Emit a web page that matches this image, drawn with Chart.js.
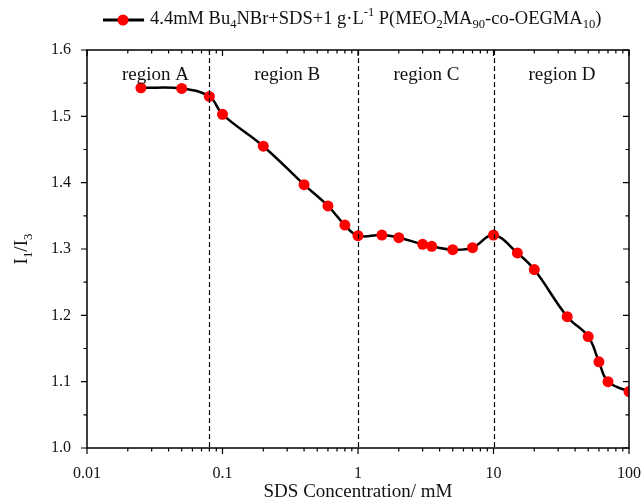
<!doctype html>
<html lang="en">
<head>
<meta charset="utf-8">
<title>I1/I3 vs SDS concentration</title>
<script src="https://cdn.jsdelivr.net/npm/chart.js"></script>
<style>
    html, body { margin: 0; padding: 0; background: #fff; }
    #wrap { width: 643px; height: 503px; position: relative; }
</style>
</head>
<body>
<div id="wrap"><canvas id="chart-0"></canvas></div>
<script>
// data
const sdsConc = [0.025, 0.05, 0.08, 0.1, 0.2, 0.4, 0.6, 0.8, 1, 1.5, 2, 3, 3.5, 5, 7, 10, 15, 20, 35, 50, 60, 70, 100];
const ratioI1I3 = [1.543, 1.542, 1.530, 1.503, 1.455, 1.397, 1.365, 1.336, 1.320, 1.321, 1.317, 1.307, 1.304, 1.299, 1.302, 1.321, 1.294, 1.269, 1.198, 1.168, 1.130, 1.100, 1.085];
const regionBounds = [0.08, 1, 10];
const regionNames = ['region A', 'region B', 'region C', 'region D'];
const regionLabelX = [0.032, 0.30, 3.2, 32];
const xTickDecades = [0.01, 0.1, 1, 10, 100];

const SERIF = '"Liberation Serif", "DejaVu Serif", serif';

// draws text with sub/superscripts, segs = [[text, 'sub'|'sup'|undefined], ...]
function richText(ctx, segs, x, y, size, draw = true) {
    let cx = x;
    segs.forEach(([t, kind]) => {
        let fs = kind ? size * 0.68 : size;
        let dy = kind === 'sub' ? size * 0.33 : (kind === 'sup' ? -size * 0.36 : 0);
        ctx.font = fs + 'px ' + SERIF;
        if (draw) ctx.fillText(t, cx, y + dy);
        cx += ctx.measureText(t).width;
    });
    return cx - x;
}

const framePlugin = {
    id: 'frame',
    afterDatasetsDraw(chart) {
        const {ctx, chartArea: a, scales: {x, y}} = chart;
        ctx.save();
        // dashed region boundaries
        ctx.strokeStyle = '#000';
        ctx.lineWidth = 1.2;
        ctx.setLineDash([5, 3]);
        regionBounds.forEach(v => {
            const px = Math.round(x.getPixelForValue(v)) + 0.5;
            ctx.beginPath(); ctx.moveTo(px, a.top); ctx.lineTo(px, a.bottom); ctx.stroke();
        });
        ctx.setLineDash([]);
        // box
        ctx.lineWidth = 1.5;
        ctx.strokeRect(a.left, a.top, a.right - a.left, a.bottom - a.top);
        // x ticks
        ctx.lineWidth = 1.2;
        for (let d = -2; d <= 2; d++) {
            for (let m = 1; m <= 9; m++) {
                const v = m * Math.pow(10, d);
                if (v > 100.0001) break;
                const px = x.getPixelForValue(v);
                const len = m === 1 ? 6 : 3.5;
                ctx.beginPath();
                ctx.moveTo(px, a.bottom); ctx.lineTo(px, a.bottom + len);
                ctx.moveTo(px, a.top); ctx.lineTo(px, a.top + len);
                ctx.stroke();
            }
        }
        // y ticks
        for (let i = 0; i <= 12; i++) {
            const v = 1.0 + i * 0.05;
            const py = y.getPixelForValue(v);
            const len = i % 2 === 0 ? 6 : 3.5;
            ctx.beginPath();
            ctx.moveTo(a.left, py); ctx.lineTo(a.left - len, py);
            ctx.moveTo(a.right, py); ctx.lineTo(a.right - len, py);
            ctx.stroke();
        }
        // region labels
        ctx.fillStyle = '#111';
        ctx.font = '19px ' + SERIF;
        ctx.textAlign = 'center';
        ctx.textBaseline = 'middle';
        regionNames.forEach((n, i) => {
            ctx.fillText(n, x.getPixelForValue(regionLabelX[i]), a.top + 25);
        });
        ctx.restore();
    },
    afterDraw(chart) {
        const {ctx, chartArea: a} = chart;
        ctx.save();
        // legend
        ctx.strokeStyle = '#000';
        ctx.lineWidth = 3;
        ctx.beginPath(); ctx.moveTo(103, 20); ctx.lineTo(144, 20); ctx.stroke();
        ctx.fillStyle = '#ff0000';
        ctx.beginPath(); ctx.arc(123, 20, 5.5, 0, Math.PI * 2); ctx.fill();
        ctx.fillStyle = '#111';
        ctx.textBaseline = 'middle';
        ctx.textAlign = 'left';
        richText(ctx, [
            ['4.4mM Bu'], ['4', 'sub'], ['NBr+SDS+1 g\u00b7L'], ['-1', 'sup'],
            [' P(MEO'], ['2', 'sub'], ['MA'], ['90', 'sub'], ['-co-OEGMA'], ['10', 'sub'], [')']
        ], 150, 19, 18.5);
        // y title
        const yTitle = [['I'], ['1', 'sub'], ['/I'], ['3', 'sub']];
        ctx.translate(22, (a.top + a.bottom) / 2);
        ctx.rotate(-Math.PI / 2);
        const w = richText(ctx, yTitle, 0, 0, 19, false);
        richText(ctx, yTitle, -w / 2, 0, 19);
        ctx.restore();
    }
};

window.addEventListener('load', () => {
    const ctx = document.querySelector('#chart-0');
    new Chart(ctx, {
        type: 'scatter',
        data: {
            datasets: [{
                label: '4.4mM Bu4NBr+SDS+1 g·L-1 P(MEO2MA90-co-OEGMA10)',
                data: sdsConc.map((c, i) => ({x: c, y: ratioI1I3[i]})),
                showLine: true,
                tension: 0.4,
                borderColor: '#000',
                borderWidth: 2.5,
                pointBackgroundColor: '#ff0000',
                pointBorderColor: '#ff0000',
                pointRadius: 5.5,
                pointBorderWidth: 0,
            }]
        },
        options: {
            responsive: true,
            maintainAspectRatio: false,
            animation: false,
            layout: { padding: { top: 50, right: 14, left: 0, bottom: 0 } },
            plugins: { legend: { display: false }, tooltip: { enabled: false } },
            scales: {
                x: {
                    type: 'logarithmic',
                    min: 0.01, max: 100,
                    grid: { display: false },
                    border: { display: false },
                    afterBuildTicks: (s) => { s.ticks = xTickDecades.map(v => ({value: v})); },
                    ticks: {
                        autoSkip: false, maxRotation: 0, padding: 8,
                        color: '#111', font: { family: SERIF, size: 16 },
                        callback: (v) => String(v)
                    },
                    title: {
                        display: true, text: 'SDS Concentration/ mM',
                        color: '#111', font: { family: SERIF, size: 19 }, padding: { top: 4, bottom: 0 }
                    },
                    afterFit: (s) => { s.height = 55; s.paddingRight = 0; s.paddingLeft = 0; }
                },
                y: {
                    min: 1.0, max: 1.6,
                    grid: { display: false },
                    border: { display: false },
                    ticks: {
                        stepSize: 0.1, padding: 8,
                        color: '#111', font: { family: SERIF, size: 16 },
                        callback: (v) => v.toFixed(1)
                    },
                    afterFit: (s) => { s.width = 87; }
                }
            }
        },
        plugins: [framePlugin]
    });
});
</script>
</body>
</html>
